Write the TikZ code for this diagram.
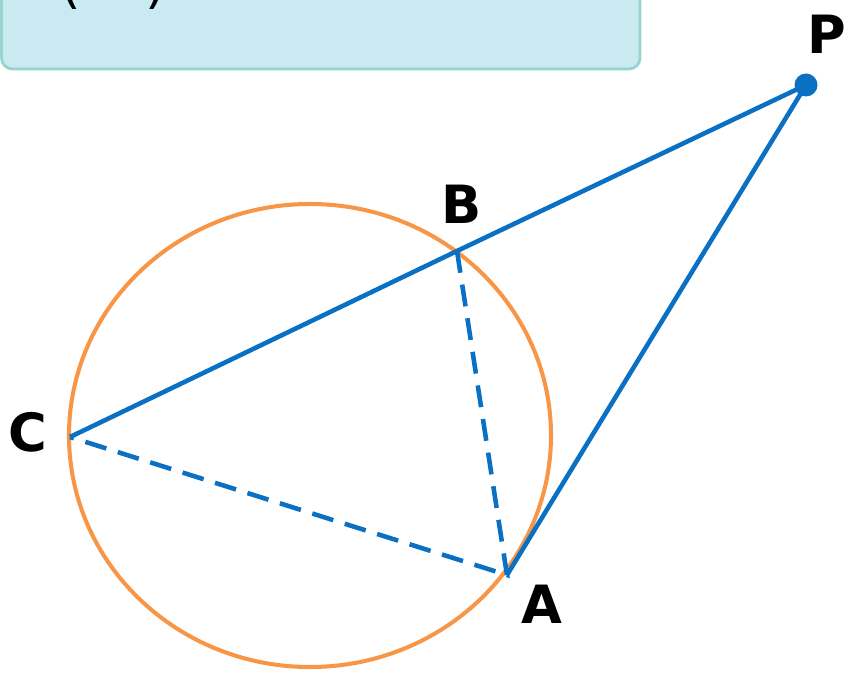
\documentclass[tikz,border=0pt]{standalone}
\usepackage{fontspec}
\setmainfont{DejaVu Sans}
\definecolor{lineblue}{RGB}{10,112,196}
\definecolor{circorange}{RGB}{247,150,70}
\definecolor{boxfill}{RGB}{200,234,240}
\definecolor{boxdraw}{RGB}{150,212,206}
\tikzset{
  seg/.style={lineblue, line width=2.6pt},
  dseg/.style={seg, dash pattern=on 0.44cm off 0.24cm},
  ptlabel/.style={font=\fontsize{30}{30}\selectfont\bfseries, inner sep=0pt}
}
\begin{document}
\begin{tikzpicture}[scale=1.0]
  \useasboundingbox (0,0) rectangle (16.92,13.44);
  % question box
  \draw[boxdraw, fill=boxfill, line width=1.6pt, rounded corners=0.22cm]
    (0.03,12.06) rectangle (12.8,14.2);
  \node[font=\fontsize{30}{30}\selectfont, anchor=base west, inner sep=0pt] (q) at (1.2,13.38) {(\hspace{1.3cm})};
  % points
  \coordinate (C) at (1.40,4.70);
  \coordinate (B) at (9.14,8.42);
  \coordinate (A) at (10.14,1.94);
  \coordinate (P) at (16.12,11.74);
  % circle
  \draw[circorange, line width=2.3pt] (6.20,4.73) ellipse [x radius=4.82, y radius=4.63];
  % secant and tangent
  \draw[seg] (C) -- (B) -- (P) -- (A);
  \draw[dseg] (B) -- (A) -- (C);
  \fill[lineblue] (P) circle (0.23);
  % labels
  \node[ptlabel] (lC) at (0.56,4.80) {C};
  \node[ptlabel] (lB) at (9.23,9.36) {B};
  \node[ptlabel] (lA) at (10.84,1.36) {A};
  \node[ptlabel] (lP) at (16.54,12.76) {P};
\end{tikzpicture}
\end{document}
